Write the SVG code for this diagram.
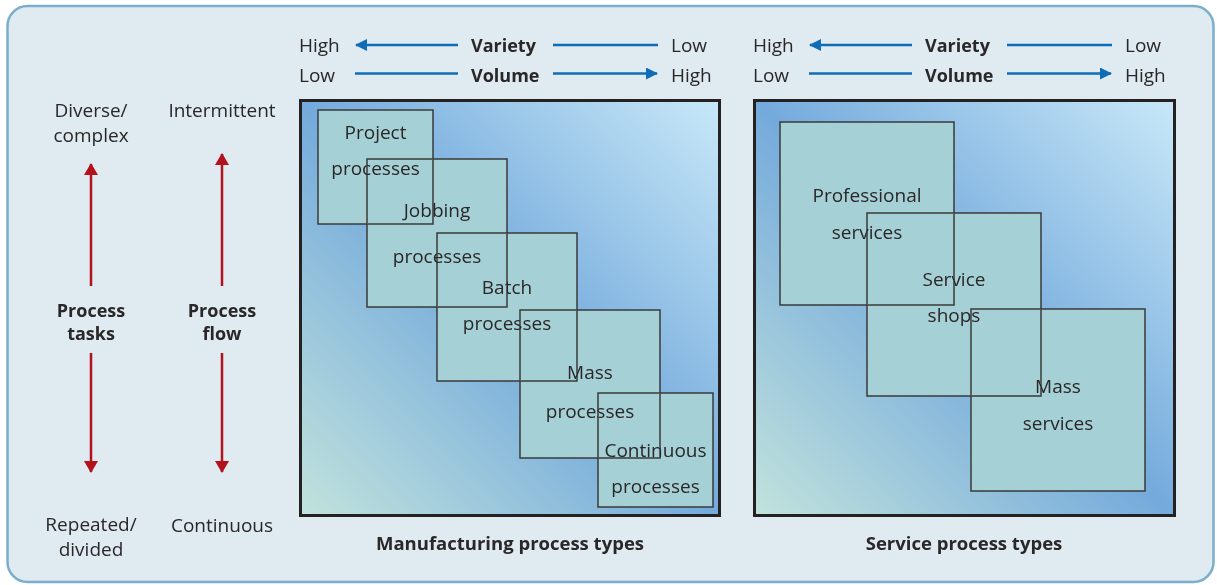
<svg xmlns="http://www.w3.org/2000/svg" width="1217" height="585" viewBox="0 0 1217 585">
<style>
text{font-family:"Open Sans","Noto Sans","Liberation Sans",sans-serif;fill:#2a2728}
.t{font-size:19px}
.b{font-size:18px;font-weight:bold}
.cap{font-size:18.5px;font-weight:bold}
.m{text-anchor:middle}
.blue{stroke:#0f6cb6;stroke-width:2.5;fill:none}
.red{stroke:#b3121d;stroke-width:2.5;fill:none}
.panel{stroke:#242122;stroke-width:3}
.sq{fill:#a5d0d6;stroke:#3a3a3a;stroke-width:1.5}
.node{mix-blend-mode:darken}
</style>
<defs>
<linearGradient id="grad" x1="1" y1="0" x2="0" y2="1">
<stop offset="0" stop-color="#c8e8f8"/>
<stop offset="0.5" stop-color="#74aadc"/>
<stop offset="1" stop-color="#c2e3dc"/>
</linearGradient>
<marker id="ab" viewBox="0 0 12 12" refX="11" refY="6" markerWidth="12" markerHeight="12" markerUnits="userSpaceOnUse" orient="auto">
<path d="M0,0 L12,6 L0,12 Z" fill="#0f6cb6"/>
</marker>
<marker id="ar" viewBox="0 0 12 14" refX="11" refY="7" markerWidth="12" markerHeight="14" markerUnits="userSpaceOnUse" orient="auto">
<path d="M0,0 L12,7 L0,14 Z" fill="#b3121d"/>
</marker>
</defs>
<rect x="7.5" y="6" width="1206" height="576" rx="20" fill="#dfeaf1" stroke="#7aaecb" stroke-width="2.5"/>

<g id="connectors">
<line class="blue" x1="458" y1="45" x2="356" y2="45" marker-end="url(#ab)"/>
<line class="blue" x1="553" y1="45" x2="658" y2="45"/>
<line class="blue" x1="355" y1="73.5" x2="458" y2="73.5"/>
<line class="blue" x1="553" y1="73.5" x2="657" y2="73.5" marker-end="url(#ab)"/>
<line class="blue" x1="912" y1="45" x2="810" y2="45" marker-end="url(#ab)"/>
<line class="blue" x1="1007" y1="45" x2="1112" y2="45"/>
<line class="blue" x1="809" y1="73.5" x2="912" y2="73.5"/>
<line class="blue" x1="1007" y1="73.5" x2="1111" y2="73.5" marker-end="url(#ab)"/>
<line class="red" x1="91" y1="286" x2="91" y2="164" marker-end="url(#ar)"/>
<line class="red" x1="91" y1="353" x2="91" y2="472" marker-end="url(#ar)"/>
<line class="red" x1="222" y1="286" x2="222" y2="154" marker-end="url(#ar)"/>
<line class="red" x1="222" y1="353" x2="222" y2="472" marker-end="url(#ar)"/>
</g>

<g id="axis-labels">
<text class="t" x="299" y="52">High</text>
<text class="b" x="471" y="52">Variety</text>
<text class="t" x="671" y="52">Low</text>
<text class="t" x="299" y="81.5">Low</text>
<text class="b" x="471" y="81.5">Volume</text>
<text class="t" x="671" y="81.5">High</text>
<text class="t" x="753" y="52">High</text>
<text class="b" x="925" y="52">Variety</text>
<text class="t" x="1125" y="52">Low</text>
<text class="t" x="753" y="81.5">Low</text>
<text class="b" x="925" y="81.5">Volume</text>
<text class="t" x="1125" y="81.5">High</text>
<text class="t m" x="91" y="116.5" font-size="18.5">Diverse/</text>
<text class="t m" x="91" y="141.5" font-size="18.5">complex</text>
<text class="t m" x="222" y="117">Intermittent</text>
<text class="b m" x="91" y="317">Process</text>
<text class="b m" x="91" y="340">tasks</text>
<text class="b m" x="222" y="317">Process</text>
<text class="b m" x="222" y="340">flow</text>
<text class="t m" x="91" y="530.5" font-size="18.5">Repeated/</text>
<text class="t m" x="91" y="555.5" font-size="18.5">divided</text>
<text class="t m" x="222" y="532">Continuous</text>
</g>

<g id="manufacturing">
<rect class="panel" x="300.5" y="100.5" width="419" height="415" fill="url(#grad)"/>
<g style="isolation:isolate">
<g id="project" class="node"><rect class="sq" x="318" y="110" width="115" height="114"/><text class="t m" x="375.5" y="139">Project</text><text class="t m" x="375.5" y="175">processes</text></g>
<g id="jobbing" class="node"><rect class="sq" x="367" y="159" width="140" height="148"/><text class="t m" x="437" y="217">Jobbing</text><text class="t m" x="437" y="263">processes</text></g>
<g id="batch" class="node"><rect class="sq" x="437" y="233" width="140" height="148"/><text class="t m" x="507" y="293.5">Batch</text><text class="t m" x="507" y="330">processes</text></g>
<g id="mass-processes" class="node"><rect class="sq" x="520" y="310" width="140" height="148"/><text class="t m" x="590" y="378.5">Mass</text><text class="t m" x="590" y="417.5">processes</text></g>
<g id="continuous" class="node"><rect class="sq" x="598" y="393" width="115" height="114"/><text class="t m" x="655.5" y="457">Continuous</text><text class="t m" x="655.5" y="493">processes</text></g>
</g>
<text class="cap m" x="510" y="550">Manufacturing process types</text>
</g>

<g id="service">
<rect class="panel" x="754.5" y="100.5" width="420" height="415" fill="url(#grad)"/>
<g style="isolation:isolate">
<g id="professional" class="node"><rect class="sq" x="780" y="122" width="174" height="183"/><text class="t m" x="867" y="202">Professional</text><text class="t m" x="867" y="238.5">services</text></g>
<g id="service-shops" class="node"><rect class="sq" x="867" y="213" width="174" height="183"/><text class="t m" x="954" y="286">Service</text><text class="t m" x="954" y="322">shops</text></g>
<g id="mass-services" class="node"><rect class="sq" x="971" y="309" width="174" height="182"/><text class="t m" x="1058" y="393">Mass</text><text class="t m" x="1058" y="429.5">services</text></g>
</g>
<text class="cap m" x="964" y="550">Service process types</text>
</g>
</svg>
